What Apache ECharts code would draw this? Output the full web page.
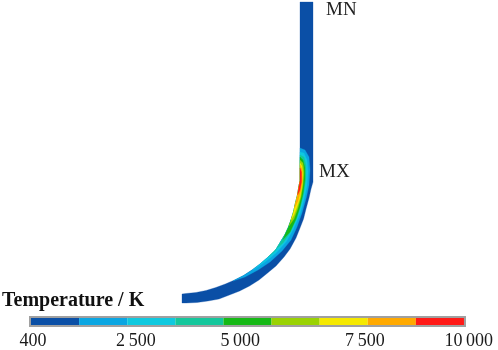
<!DOCTYPE html>
<html><head><meta charset="utf-8">
<style>html,body{margin:0;padding:0;background:#fff}#c{width:498px;height:350px}</style>
<script src="https://cdn.jsdelivr.net/npm/echarts@6/dist/echarts.min.js"></script>
</head><body><div id="c"></div>
<script>
// Specimen outline (horizontal, vertical position)
var innerEdge = [[300,2],[300,181],[299,186],[297.5,195],[295.5,203],[293.5,212],[291,220],[288.5,227],[285,234.5],[281,241],[275,251],[267,258],[260,264],[252,270],[243.5,275.6],[234.6,280],[225.3,284],[215.8,287.5],[206,290.5],[196,292.5],[186,293.5],[182,294]];
var outerEdge = [[313,2],[313,182],[311,189],[309,198],[306,209],[303.5,219],[300,228],[296,238],[290,249],[284,257],[276,266],[267.6,273],[259,280],[249.5,286],[239.7,291],[229.4,295],[219,299],[208,301],[197,302.5],[186,303],[182,303]];
// Temperature contours, coolest to hottest
var contour1 = [[300,148],[305,150],[309,157],[310,170],[309,185],[306.5,197],[302,213],[297,227],[291,240],[282,251],[270,262],[258,270],[245,277],[233,281]];
var contour2 = [[300,152],[304,153],[307,160],[308,172],[307,186],[304,200],[300,214],[293,230],[286,242],[276,253],[265,262],[253,270]];
var contour3 = [[300,155],[304,157],[306,165],[306,178],[304,192],[301,205],[297,218],[290,233],[283,243],[275,250],[268,257]];
var contour4 = [[300,157],[303,160],[305,168],[305,180],[303,194],[300,207],[296,219],[290,232],[283,239.5]];
var contour5 = [[300,160],[303,163],[304,172],[303,185],[301,197],[298,208],[294,219],[289,226]];
var contour6 = [[300,163],[302,166],[303,175],[302,187],[300,198],[297,207],[294,215],[291,220]];
var contour7 = [[300,165],[302,169],[302.5,180],[301,190],[298,201],[294.5,208]];
var contour8 = [[300,168],[301.5,172],[301.5,182],[300,190],[297.5,195]];
var contours = [contour1,contour2,contour3,contour4,contour5,contour6,contour7,contour8];
var bandColors = ['#0A4FA6','#0AA6E2','#0FC9DF','#14C79C','#16B916','#9AD203','#F6E900','#FFA900','#FF1A17'];
var tickLabels = ['400','2\u2009500','5\u2009000','7\u2009500','10\u2009000'];
var tickPlaces = [0.04,2.18,4.35,6.94,9.1];
var notes = [{text:'MN',at:[326,10]},{text:'MX',at:[319,172]}];
var title = 'Temperature / K';
var titleAt = [2,301];

function layer(c){
  var a=c[0], b=c[c.length-1];
  var back=innerEdge.filter(function(p){return p[1]>a[1]&&p[1]<b[1];}).reverse();
  return c.concat(back);
}
var polygons=[{pts:outerEdge.concat(innerEdge.slice().reverse()),color:bandColors[0]}];
contours.forEach(function(c,i){polygons.push({pts:layer(c),color:bandColors[i+1]});});

var serif='"Liberation Serif","Times New Roman",serif';
var option={
  animation:false,
  backgroundColor:'#fff',
  grid:[
    {left:0,top:0,width:498,height:350},
    {left:31,top:318,width:442.6,height:8}
  ],
  xAxis:[
    {gridIndex:0,type:'value',min:0,max:498,show:false},
    {gridIndex:1,type:'value',min:0,max:9.2,splitLine:{show:false},axisLine:{show:false},axisTick:{show:false},
     axisLabel:{customValues:tickPlaces,margin:7,fontFamily:serif,fontSize:18,color:'#1a1a1a',
       formatter:function(v){return tickLabels[tickPlaces.indexOf(v)];}}}
  ],
  yAxis:[
    {gridIndex:0,type:'value',min:0,max:350,inverse:true,show:false},
    {gridIndex:1,type:'value',min:0,max:1,show:false}
  ],
  series:[
    {type:'custom',xAxisIndex:0,yAxisIndex:0,silent:true,data:polygons.map(function(p,i){return i;}),
     renderItem:function(params,api){
       var p=polygons[api.value(0)];
       return {type:'polygon',shape:{points:p.pts.map(function(q){return api.coord(q);})},
         style:{fill:p.color,stroke:p.color,lineWidth:0.3}};
     }},
    {type:'custom',xAxisIndex:1,yAxisIndex:1,silent:true,z:1,data:[0],
     renderItem:function(params,api){
       var a=api.coord([0,1]),b=api.coord([9,0]);
       return {type:'rect',shape:{x:a[0]-1,y:a[1]-1,width:b[0]-a[0]+2,height:b[1]-a[1]+2},
         style:{fill:'#fff',stroke:'#a0a0a0',lineWidth:2}};
     }},
    {type:'custom',xAxisIndex:1,yAxisIndex:1,silent:true,z:2,data:bandColors.map(function(c,i){return [i,i+1];}),
     renderItem:function(params,api){
       var a=api.coord([api.value(0),1]),b=api.coord([api.value(1),0]);
       return {type:'rect',shape:{x:a[0],y:a[1],width:b[0]-a[0],height:b[1]-a[1]},
         style:{fill:bandColors[params.dataIndex]}};
     }},
    {type:'custom',xAxisIndex:0,yAxisIndex:0,silent:true,data:notes.map(function(n){return n.at;}),
     renderItem:function(params,api){
       var p=api.coord([api.value(0),api.value(1)]);
       return {type:'text',x:p[0],y:p[1],style:{text:notes[params.dataIndex].text,fontFamily:serif,fontSize:19,fill:'#222',align:'left',verticalAlign:'middle'}};
     }},
    {type:'custom',xAxisIndex:0,yAxisIndex:0,silent:true,data:[titleAt],
     renderItem:function(params,api){
       var p=api.coord([api.value(0),api.value(1)]);
       return {type:'text',x:p[0],y:p[1],style:{text:title,fontFamily:serif,fontWeight:'bold',fontSize:20,fill:'#111',align:'left',verticalAlign:'middle'}};
     }}
  ]
};
echarts.init(document.getElementById('c'),null,{renderer:'canvas'}).setOption(option);
</script>
</body></html>
